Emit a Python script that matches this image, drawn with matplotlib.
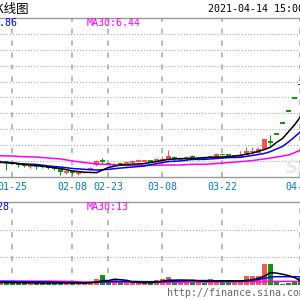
import numpy as np
import matplotlib
matplotlib.use('Agg')
import matplotlib.pyplot as plt
from matplotlib.transforms import blended_transform_factory

plt.rcParams['lines.scale_dashes'] = False

# trading days shown in the crop
dates = ['01-21', '01-22', '01-25', '01-26', '01-27', '01-28', '01-29',
         '02-01', '02-02', '02-03', '02-04', '02-05', '02-08', '02-09',
         '02-10', '02-18', '02-19', '02-22', '02-23', '02-24', '02-25',
         '02-26', '03-01', '03-02', '03-03', '03-04', '03-05', '03-08',
         '03-09', '03-10', '03-11', '03-12', '03-15', '03-16', '03-17',
         '03-18', '03-19', '03-22', '03-23', '03-24', '03-25', '03-26',
         '03-29', '03-30', '03-31', '04-01', '04-02', '04-06', '04-07',
         '04-08', '04-09']

opens = [5.66, 5.69, 5.60, 5.55, 5.50, 5.36, 5.40, 5.41, 5.31, 5.27,
         5.17, 4.93, 5.02, 4.86, 4.90, 5.08, 5.43, 5.71, 5.59, 5.41,
         5.50, 5.38, 5.55, 5.64, 5.64, 5.73, 5.66, 5.74, 5.82, 6.00,
         5.82, 5.82, 5.98, 5.82, 5.98, 5.94, 5.96, 6.17, 6.16, 6.02,
         6.05, 6.12, 6.35, 6.26, 6.54, 7.09, 7.58, 8.34, 9.15, 10.05,
         11.00]
highs = [5.78, 5.69, 5.62, 5.55, 5.55, 5.50, 5.43, 5.43, 5.33, 5.29,
         5.19, 5.04, 5.04, 4.97, 4.95, 5.26, 5.78, 5.89, 5.62, 5.57,
         5.53, 5.68, 5.75, 5.87, 5.80, 5.77, 5.89, 6.05, 6.47, 6.02,
         5.87, 6.05, 6.12, 5.96, 6.00, 6.12, 6.28, 6.20, 6.17, 6.05,
         6.42, 6.68, 6.66, 6.66, 7.25, 7.49, 7.58, 8.34, 9.15, 10.05,
         11.00]
lows = [5.55, 5.08, 5.50, 5.31, 5.31, 5.22, 5.13, 5.22, 5.15, 5.08,
        4.76, 4.81, 4.74, 4.74, 4.88, 5.06, 5.36, 5.55, 5.40, 5.36,
        5.45, 5.36, 5.53, 5.62, 5.62, 5.68, 5.64, 5.66, 5.80, 5.64,
        5.78, 5.78, 5.78, 5.80, 5.85, 5.92, 5.94, 6.12, 6.02, 5.98,
        6.00, 6.10, 6.16, 6.24, 6.52, 6.81, 7.58, 8.34, 9.15, 10.05,
        11.00]
closes = [5.67, 5.59, 5.53, 5.43, 5.41, 5.37, 5.29, 5.31, 5.22, 5.13,
          4.95, 4.94, 4.90, 4.87, 4.93, 5.24, 5.71, 5.70, 5.45, 5.50,
          5.48, 5.66, 5.73, 5.78, 5.78, 5.70, 5.82, 5.80, 6.07, 5.82,
          5.84, 6.00, 5.97, 5.94, 5.87, 6.07, 6.17, 6.16, 6.05, 6.04,
          6.10, 6.40, 6.36, 6.54, 7.23, 6.95, 7.58, 8.34, 9.15, 10.05,
          11.00]
volumes = [9, 13, 6, 7, 6, 8, 7, 6, 7, 6, 14, 7, 8, 6, 7, 8, 22, 36,
           9, 22, 9, 7, 7, 7, 7, 9, 18, 23, 29, 13, 9, 18, 13, 13, 9,
           22, 16, 13, 13, 13, 13, 32, 31, 31, 76, 76, 14, 5, 7, 13, 25]

# moving averages
ma_days = ['01-21', '01-25', '01-27', '01-29', '02-02', '02-04', '02-08',
           '02-10', '02-19', '02-23', '02-25', '03-01', '03-03', '03-05',
           '03-09', '03-11', '03-15', '03-17', '03-19', '03-23', '03-25',
           '03-29', '03-31', '04-01', '04-02', '04-06', '04-07', '04-08',
           '04-09']
ma5 = [5.62, 5.57, 5.47, 5.40, 5.29, 5.19, 5.02, 4.93, 4.90, 5.26, 5.43,
       5.48, 5.53, 5.67, 5.82, 5.87, 5.88, 5.94, 5.98, 6.00, 6.10, 6.26,
       6.50, 6.66, 6.99, 7.26, 7.73, 8.20, 8.77]
ma10 = [5.62, 5.57, 5.50, 5.47, 5.36, 5.29, 5.19, 5.13, 5.08, 5.13, 5.22,
        5.29, 5.36, 5.53, 5.67, 5.71, 5.82, 5.82, 5.88, 5.94, 5.96, 6.09,
        6.23, 6.36, 6.54, 6.71, 7.02, 7.37, 7.73]
ma30 = [6.07, 6.05, 6.00, 5.98, 5.91, 5.85, 5.71, 5.60, 5.50, 5.47, 5.43,
        5.41, 5.41, 5.41, 5.43, 5.43, 5.48, 5.48, 5.53, 5.60, 5.66, 5.74,
        5.85, 5.91, 5.98, 6.05, 6.12, 6.28, 6.47]

vma_days = ['01-21', '01-27', '02-02', '02-08', '02-10', '02-19', '02-22',
            '02-23', '02-24', '02-25', '02-26', '03-01', '03-03', '03-05',
            '03-09', '03-11', '03-15', '03-17', '03-19', '03-23', '03-25',
            '03-29', '03-30', '03-31', '04-01', '04-02', '04-06', '04-07',
            '04-08', '04-09']
vma5 = [9, 8, 7, 8, 7, 10, 16, 16, 21, 19, 17, 11, 8, 10, 17, 18, 17, 13,
        15, 15, 14, 19, 24, 32, 45, 43, 39, 34, 27, 15]
vma10 = [13, 12, 11, 9, 9, 10, 11, 12, 13, 13, 13, 13, 12, 12, 13, 14, 16,
         16, 15, 15, 15, 16, 20, 24, 29, 30, 30, 30, 30, 29]
vma30 = [14, 14, 14, 13, 10, 10, 10, 10, 10, 10, 10, 10, 10, 10, 10, 10,
         11, 11, 11, 11, 12, 12, 12, 13, 13, 13, 13, 13, 13, 13]

label_days = ['01-25', '02-08', '02-23', '03-08', '03-22', '04-09']

RED = '#f25656'
GREEN = '#129612'
GRID = '#ababab'
EDGE = '#9a9a9a'
MONO = 'DejaVu Sans Mono'

W, H = 300, 300
fig = plt.figure(figsize=(3, 3), dpi=100)


def fx(px):
    return px / W


def fy(py):
    return 1 - py / H


ax = fig.add_axes([0, fy(177), 1, (177 - 18) / H])
axv = fig.add_axes([0, fy(285), 1, (285 - 202) / H])

x = np.arange(len(dates))
for a in (ax, axv):
    a.set_xlim(-0.08, 49.92)
    a.set_xticks([])
    a.set_yticks([])
    for s in a.spines.values():
        s.set_visible(False)
    for d in label_days:
        a.axvline(dates.index(d), color=GRID, lw=1.2, ls=(0, (3.6, 5.0)),
                  zorder=0)

ax.set_ylim(4.6, 15.6)
for v in np.linspace(4.6, 15.6, 11)[1:-1]:
    ax.axhline(v, color=GRID, lw=0.8, ls=(0, (0.8, 1.4)), zorder=0)
for side in ('top', 'bottom'):
    ax.spines[side].set_visible(True)
    ax.spines[side].set_color(EDGE)
    ax.spines[side].set_linewidth(1.0)

axv.set_ylim(0, 300)
for v in (100, 200):
    axv.axhline(v, color=GRID, lw=0.8, ls=(0, (0.8, 1.4)), zorder=0)
axv.spines['top'].set_visible(True)
axv.spines['top'].set_color(EDGE)
axv.spines['top'].set_linewidth(1.0)

# candles
colors = []
for k in range(len(dates)):
    o, c = opens[k], closes[k]
    col = RED if c > o else GREEN
    colors.append(col)
    ax.vlines(k, lows[k], highs[k], color=col, lw=0.75, zorder=2)
    h = abs(c - o)
    bottom = min(o, c)
    if h < 0.12:
        bottom = (o + c) / 2 - 0.06
        h = 0.12
    ax.bar(k, h, bottom=bottom, width=0.84, color=col, lw=0, zorder=2)

mx = [dates.index(d) for d in ma_days]
ax.plot(mx, ma30, color='#ff00ff', lw=1.1, zorder=3)
ax.plot(mx, ma10, color='#0000ff', lw=1.1, zorder=3)
ax.plot(mx, ma5, color='black', lw=1.1, zorder=3)

axv.bar(x, volumes, width=0.84, color=colors, lw=0, zorder=2)
vx = [dates.index(d) for d in vma_days]
axv.plot(vx, vma30, color='#ff00ff', lw=1.1, zorder=3)
axv.plot(vx, vma10, color='#0000ff', lw=1.1, zorder=3)
axv.plot(vx, vma5, color='black', lw=1.1, zorder=3)

# texts
fig.text(fx(29), fy(9), '日K线图', ha='right', va='center', fontsize=9,
         family=['Noto Sans CJK SC', 'DejaVu Sans'])
fig.text(fx(208), fy(9), '2021-04-14 15:00', ha='left', va='center',
         fontsize=7.2, family=MONO)
fig.text(fx(18), fy(23.5), 'MA10:8.86', ha='right', va='center',
         fontsize=7.2, family=MONO, color='#0000ff')
fig.text(fx(87), fy(23.5), 'MA30:6.44', ha='left', va='center',
         fontsize=7.2, family=MONO, color='#ff00ff')
fig.text(fx(9.5), fy(206.5), 'MA10:28', ha='right', va='center',
         fontsize=7.2, family=MONO, color='#0000ff')
fig.text(fx(87), fy(206.5), 'MA30:13', ha='left', va='center',
         fontsize=7.2, family=MONO, color='#ff00ff')

trans = blended_transform_factory(ax.transData, fig.transFigure)
for d in label_days:
    ax.text(dates.index(d), fy(187), d, transform=trans, ha='center',
            va='center', fontsize=7.2, family=MONO, color='#0a78c8',
            clip_on=False)

fig.text(fx(286), fy(168), 'Sina', ha='left', va='center', fontsize=12,
         fontweight='bold', style='italic', color='#e8e8e8', zorder=0)
fig.text(fx(167), fy(292.5), 'http://finance.sina.com.cn', ha='left',
         va='center', fontsize=7.2, family=MONO, color='#666666')

fig.savefig('out.png', dpi=100)
